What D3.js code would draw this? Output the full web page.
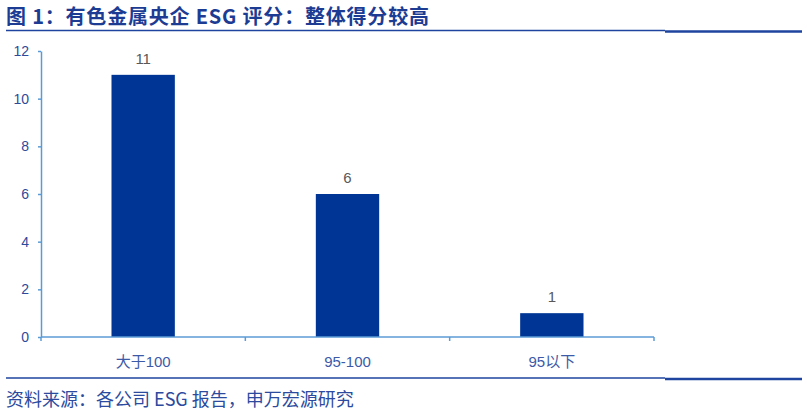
<!DOCTYPE html>
<html>
<head>
<meta charset="utf-8">
<script src="https://d3js.org/d3.v7.min.js"></script>
<style>
  body { margin: 0; background: #fff; }
  text { font-family: "Liberation Sans", "Noto Sans CJK SC", sans-serif; }
</style>
</head>
<body>
<script>
// chart data
const categories = ["大于100", "95-100", "95以下"];
const counts = [11, 6, 1];
const yTicks = [0, 2, 4, 6, 8, 10, 12];
const titleText = "图 1：有色金属央企 ESG 评分：整体得分较高";
const sourceText = "资料来源：各公司 ESG 报告，申万宏源研究";

const W = 807, H = 413;
const svg = d3.select("body").append("svg")
    .attr("width", W).attr("height", H);

const plotLeft = 41, plotRight = 654, plotTop = 51, plotBottom = 337;

const x = d3.scaleBand()
    .domain(categories)
    .range([plotLeft, plotRight])
    .paddingInner(0.69)
    .paddingOuter(0.345);

const y = d3.scaleLinear()
    .domain([0, 12])
    .range([plotBottom, plotTop]);

// title and rules
svg.append("text")
    .attr("x", 6).attr("y", 24)
    .attr("font-size", 20).attr("font-weight", "bold")
    .attr("letter-spacing", 0.8)
    .attr("fill", "#1c3c94")
    .style("font-family", "'Noto Sans CJK SC', sans-serif")
    .text(titleText);

function rule(yy) {
    svg.append("line").attr("x1", 6).attr("x2", 665).attr("y1", yy).attr("y2", yy)
        .attr("stroke", "#1f44a0").attr("stroke-width", 1.5);
    svg.append("line").attr("x1", 665).attr("x2", 802).attr("y1", yy + 1).attr("y2", yy + 1)
        .attr("stroke", "#1f44a0").attr("stroke-width", 2.5);
}
rule(30.5);
rule(378);

// bars
svg.selectAll("rect.bar").data(counts).join("rect")
    .attr("class", "bar")
    .attr("x", (d, i) => x(categories[i]))
    .attr("width", x.bandwidth())
    .attr("y", d => y(d))
    .attr("height", d => y(0) - y(d))
    .attr("fill", "#003595");

svg.selectAll("text.val").data(counts).join("text")
    .attr("class", "val")
    .attr("x", (d, i) => x(categories[i]) + x.bandwidth() / 2)
    .attr("y", d => y(d) - 11)
    .attr("text-anchor", "middle")
    .attr("font-size", 15)
    .attr("fill", "#595959")
    .text(d => d);

// y axis
const yAxis = svg.append("g")
    .attr("transform", `translate(${plotLeft},0)`)
    .call(d3.axisLeft(y).tickValues(yTicks).tickSize(3).tickPadding(9).tickSizeOuter(0));
yAxis.select(".domain").attr("stroke", "#5b9bd5").attr("stroke-width", 1.5);
yAxis.selectAll(".tick line").attr("stroke", "#5b9bd5").attr("stroke-width", 1.5);
yAxis.selectAll(".tick text").attr("font-size", 14).attr("fill", "#2e4a9a")
    .style("font-family", "'Liberation Sans', sans-serif");

// x axis: ticks at band boundaries
const bounds = categories.map(c => x(c) - x.step() * x.paddingInner() / 2).concat([plotRight]);
svg.append("line")
    .attr("x1", plotLeft).attr("x2", plotRight).attr("y1", plotBottom).attr("y2", plotBottom)
    .attr("stroke", "#5b9bd5").attr("stroke-width", 1.5);
svg.selectAll("line.xt").data(bounds).join("line")
    .attr("class", "xt")
    .attr("x1", d => d).attr("x2", d => d)
    .attr("y1", plotBottom).attr("y2", plotBottom + 4)
    .attr("stroke", "#5b9bd5").attr("stroke-width", 1.5);
svg.selectAll("text.cat").data(categories).join("text")
    .attr("class", "cat")
    .attr("x", d => x(d) + x.bandwidth() / 2)
    .attr("y", 367)
    .attr("text-anchor", "middle")
    .attr("font-size", 15)
    .attr("fill", "#3c5aa8")
    .text(d => d);

// source
svg.append("text")
    .attr("x", 6).attr("y", 406)
    .attr("font-size", 18)
    .attr("fill", "#2c4a9e")
    .style("font-family", "'Noto Sans CJK SC', sans-serif")
    .text(sourceText);
</script>
</body>
</html>
